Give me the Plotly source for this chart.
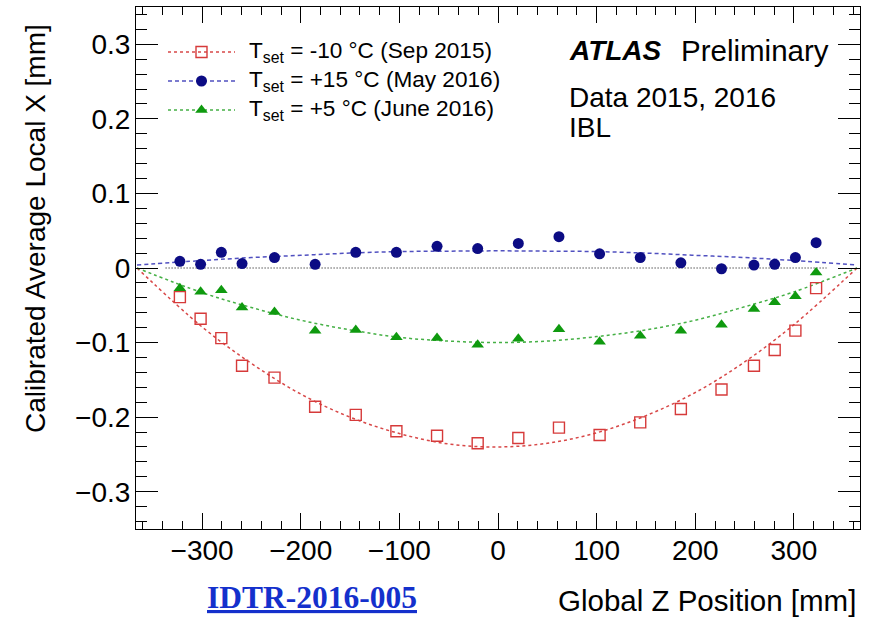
import plotly.graph_objects as go

# ---------------- data ----------------
z_pos = [-322.5, -301.5, -280.5, -259.5, -226.6, -185.4, -144.2, -103.0, -61.8, -20.6,
         20.6, 61.8, 103.0, 144.2, 185.4, 226.6, 259.5, 280.5, 301.5, 322.5]

x_sep2015 = [-0.039, -0.068, -0.094, -0.131, -0.147, -0.186, -0.197, -0.219, -0.225, -0.235,
             -0.228, -0.214, -0.224, -0.207, -0.189, -0.163, -0.131, -0.110, -0.084, -0.027]
x_may2016 = [0.009, 0.005, 0.021, 0.006, 0.014, 0.005, 0.021, 0.021, 0.029, 0.026,
             0.033, 0.042, 0.019, 0.014, 0.007, -0.001, 0.004, 0.005, 0.014, 0.034]
x_jun2016 = [-0.027, -0.032, -0.030, -0.053, -0.059, -0.084, -0.083, -0.093, -0.094, -0.103,
             -0.095, -0.082, -0.099, -0.091, -0.084, -0.076, -0.055, -0.046, -0.038, -0.006]

# fit curves
fit_z = [-366, -300, -250, -200, -150, -100, -50, 0, 50, 100, 150, 200, 250, 300, 364]
fit_sep2015 = [0.0, -0.079, -0.128, -0.169, -0.200, -0.222, -0.236, -0.240, -0.235, -0.221,
               -0.198, -0.167, -0.126, -0.076, 0.0]
fit_may2016 = [0.004, 0.010, 0.014, 0.017, 0.020, 0.022, 0.0226, 0.023, 0.0226, 0.022,
               0.020, 0.017, 0.014, 0.010, 0.004]
fit_jun2016 = [0.0, -0.033, -0.053, -0.070, -0.083, -0.093, -0.098, -0.100, -0.098, -0.092,
               -0.083, -0.070, -0.052, -0.032, 0.0]

zero_line_z = [-337, 333]
zero_line_v = [0, 0]

legend_labels = ["T<sub>set</sub> = -10 °C (Sep 2015)",
                 "T<sub>set</sub> = +15 °C (May 2016)",
                 "T<sub>set</sub> = +5 °C (June 2016)"]

x_ticks = [-300, -200, -100, 0, 100, 200, 300]
y_ticks = [-0.3, -0.2, -0.1, 0, 0.1, 0.2, 0.3]
y_ticktext = ["−0.3", "−0.2", "−0.1", "0", "0.1", "0.2", "0.3"]

# ---------------- styling ----------------
W, H = 869, 617
L, R, T, B = 136, 9, 7, 88
PX0, PX1, PY0, PY1 = L, W - R, T, H - B

RED, RED_FIT = "#d63a3a", "#d84848"
BLUE, BLUE_FIT = "#0c0c84", "#5050c0"
GREEN, GREEN_FIT = "#0f9a0f", "#45b045"
FONT = "Liberation Sans"


def px(x):
    return (x - PX0) / (PX1 - PX0)


def py(y):
    return (PY1 - y) / (PY1 - PY0)


fig = go.Figure()

fig.add_trace(go.Scatter(x=zero_line_z, y=zero_line_v, mode="lines",
                         line=dict(color="#555555", width=1.3, dash="1px,2px"),
                         showlegend=False, hoverinfo="skip"))

series = [
    (fit_sep2015, x_sep2015, RED, RED_FIT, "3px,3px",
     dict(symbol="square-open", size=11, color=RED, line=dict(width=1.4, color=RED))),
    (fit_may2016, x_may2016, BLUE, BLUE_FIT, "4px,3px",
     dict(symbol="circle", size=11, color=BLUE, line=dict(width=0))),
    (fit_jun2016, x_jun2016, GREEN, GREEN_FIT, "3px,3px",
     dict(symbol="triangle-up", size=11, color=GREEN, line=dict(width=0))),
]

for fit, vals, col, fcol, dash, mk in series:
    fig.add_trace(go.Scatter(x=fit_z, y=fit, mode="lines", line_shape="spline",
                             line=dict(color=fcol, width=1.5, dash=dash),
                             showlegend=False, hoverinfo="skip"))
for fit, vals, col, fcol, dash, mk in series:
    fig.add_trace(go.Scatter(x=z_pos, y=vals, mode="markers", marker=mk,
                             showlegend=False))

# legend built on an overlay axis measured in pixels
rows = [52, 81, 110]
for (fit, vals, col, fcol, dash, mk), yrow, lab in zip(series, rows, legend_labels):
    fig.add_trace(go.Scatter(x=[168, 235], y=[yrow, yrow], mode="lines",
                             line=dict(color=fcol, width=1.5, dash=dash),
                             xaxis="x2", yaxis="y2", showlegend=False, hoverinfo="skip"))
    fig.add_trace(go.Scatter(x=[201.5], y=[yrow], mode="markers", marker=mk,
                             xaxis="x2", yaxis="y2", showlegend=False, hoverinfo="skip"))

annotations = []
for yrow, lab in zip(rows, legend_labels):
    annotations.append(dict(x=px(247), y=py(yrow), xref="paper", yref="paper",
                            text=lab, showarrow=False, xanchor="left", yanchor="middle",
                            font=dict(family=FONT, size=22.6, color="black")))

texts = [
    dict(x=px(567), y=py(50), text="<b><i>ATLAS</i></b>", xanchor="left"),
    dict(x=px(679), y=py(50), text="Preliminary", xanchor="left", size=29.5),
    dict(x=px(567), y=py(97), text="Data 2015, 2016", xanchor="left"),
    dict(x=px(567), y=py(128), text="IBL", xanchor="left"),
    dict(x=px(858), y=py(600), text="Global Z Position [mm]", xanchor="right", size=29.5),
    dict(x=px(35), y=py(229), text="Calibrated Average Local X [mm]", xanchor="center",
         textangle=-90),
]
for a in texts:
    size = a.pop("size", 28)
    a.update(xref="paper", yref="paper", showarrow=False, yanchor="middle",
             font=dict(family=FONT, size=size, color="black"))
    annotations.append(a)

annotations.append(dict(x=px(311.5), y=py(597), xref="paper", yref="paper",
                        text="<b>IDTR-2016-005</b>", showarrow=False,
                        xanchor="center", yanchor="middle",
                        font=dict(family="Liberation Serif", size=31.5, color="#1430cc",
                                  lineposition="under")))

axis_common = dict(showgrid=False, zeroline=False, showline=True, linecolor="black",
                   linewidth=1, mirror="allticks", ticks="inside", tickcolor="black",
                   tickwidth=1, tickfont=dict(family=FONT, size=28, color="black"))

fig.update_layout(
    width=W, height=H,
    margin=dict(l=L, r=R, t=T, b=B, pad=0),
    paper_bgcolor="white", plot_bgcolor="white",
    showlegend=False,
    annotations=annotations,
    xaxis=dict(range=[-367, 367], tickvals=x_ticks, ticklen=16, ticklabelstandoff=-4,
               minor=dict(dtick=20, tick0=0, ticks="inside", ticklen=8, tickcolor="black"),
               **axis_common),
    yaxis=dict(range=[-0.35, 0.35], tickvals=y_ticks, ticktext=y_ticktext,
               ticklen=22, ticklabelstandoff=-1,
               minor=dict(dtick=0.02, tick0=0, ticks="inside", ticklen=11, tickcolor="black"),
               **axis_common),
    xaxis2=dict(overlaying="x", range=[PX0, PX1], visible=False, fixedrange=True),
    yaxis2=dict(overlaying="y", range=[PY1, PY0], visible=False, fixedrange=True),
)

fig.write_html("out.html")
